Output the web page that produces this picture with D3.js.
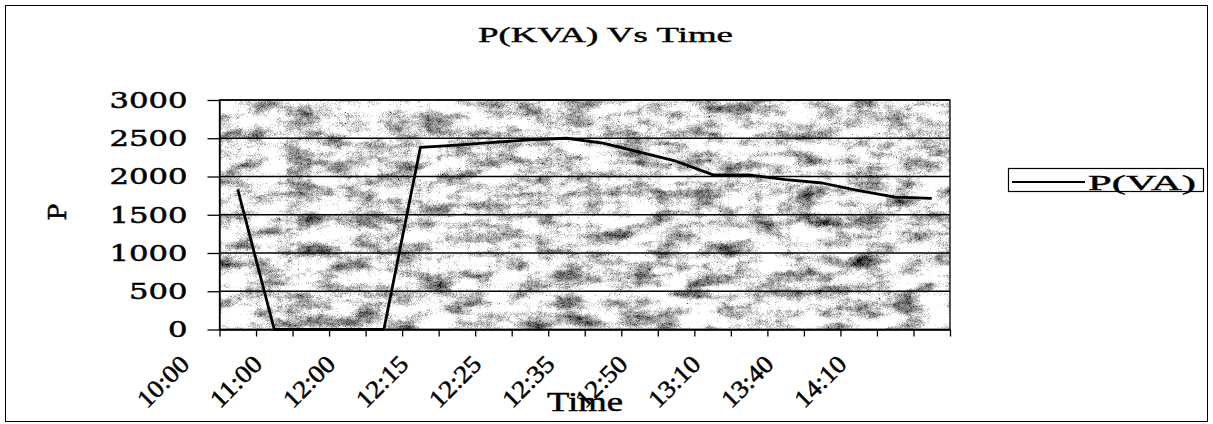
<!DOCTYPE html>
<html>
<head>
<meta charset="utf-8">
<script src="https://cdn.jsdelivr.net/npm/d3@7"></script>
<style>
    body { margin: 0; background: #fff; }
    svg { display: block; }
</style>
</head>
<body>
<div id="chart"></div>
<script>
// Data
const tickLabels = ["10:00", "11:00", "12:00", "12:15", "12:25", "12:35", "12:50", "13:10", "13:40", "14:10"];
const pValues = [1830, 0, 0, 0, 0, 2380, 2410, 2445, 2480, 2500, 2435, 2320, 2200, 2025, 2020, 1960, 1915, 1815, 1730, 1715];
const yTicks = [0, 500, 1000, 1500, 2000, 2500, 3000];
const seriesName = "P(VA)";
const chartTitle = "P(KVA) Vs Time";

const W = 1213, H = 424;
const margin = { top: 100, right: 263, bottom: 94.5, left: 219.5 };
const width = W - margin.left - margin.right;
const height = H - margin.top - margin.bottom;

const svg = d3.select("#chart").append("svg")
    .attr("width", W)
    .attr("height", H);

// granite-like texture for the plot area: soft blotches + fine grain
const defs = svg.append("defs");
const filt = defs.append("filter").attr("id", "granite")
    .attr("x", 0).attr("y", 0).attr("width", "100%").attr("height", "100%")
    .attr("color-interpolation-filters", "sRGB");
filt.append("feTurbulence")
    .attr("type", "fractalNoise")
    .attr("baseFrequency", "0.03 0.07")
    .attr("numOctaves", 4)
    .attr("seed", 11)
    .attr("result", "blotch");
filt.append("feColorMatrix")
    .attr("in", "blotch")
    .attr("type", "matrix")
    .attr("values", "0.5 0.5 0 0 0  0.5 0.5 0 0 0  0.5 0.5 0 0 0  0 0 0 0 1")
    .attr("result", "blotchGray");
filt.append("feTurbulence")
    .attr("type", "turbulence")
    .attr("baseFrequency", "0.9")
    .attr("numOctaves", 1)
    .attr("seed", 3)
    .attr("result", "grain");
filt.append("feColorMatrix")
    .attr("in", "grain")
    .attr("type", "matrix")
    .attr("values", "1 0 0 0 0  1 0 0 0 0  1 0 0 0 0  0 0 0 0 1")
    .attr("result", "grainGray");
filt.append("feComposite")
    .attr("in", "blotchGray")
    .attr("in2", "grainGray")
    .attr("operator", "arithmetic")
    .attr("k1", 0).attr("k2", 1).attr("k3", -0.35).attr("k4", 0.35)
    .attr("result", "mix");
const ct = filt.append("feComponentTransfer").attr("in", "mix");
["feFuncR", "feFuncG", "feFuncB"].forEach(f => {
    ct.append(f).attr("type", "linear").attr("slope", 2.4).attr("intercept", -1.03);
});
ct.append("feFuncA").attr("type", "linear").attr("slope", 0).attr("intercept", 1);

// outer frame
svg.append("rect")
    .attr("x", 5.5).attr("y", 5.5)
    .attr("width", W - 11).attr("height", H - 8)
    .attr("fill", "none")
    .attr("stroke", "#000")
    .attr("stroke-width", 1);

// title
svg.append("text")
    .attr("x", 605.5)
    .attr("y", 42)
    .attr("text-anchor", "middle")
    .attr("font-family", "Liberation Serif")
    .attr("font-size", 22)
    .attr("stroke", "#000")
    .attr("stroke-width", 0.4)
    .attr("textLength", 255)
    .attr("lengthAdjust", "spacingAndGlyphs")
    .text(chartTitle);

const g = svg.append("g")
    .attr("transform", `translate(${margin.left},${margin.top})`);

// Scales
const x = d3.scaleBand().domain(d3.range(pValues.length)).range([0, width]).padding(0);
const xTickScale = d3.scaleLinear().domain([0, pValues.length]).range([0, width]);
const y = d3.scaleLinear().domain([0, 3000]).range([height, 0]);

// plot background
g.append("rect")
    .attr("width", width)
    .attr("height", height)
    .attr("fill", "#aaa")
    .attr("filter", "url(#granite)");

// gridlines
g.append("g")
    .selectAll("line")
    .data(yTicks)
    .join("line")
    .attr("x1", 0).attr("x2", width)
    .attr("y1", d => y(d)).attr("y2", d => y(d))
    .attr("stroke", "#000")
    .attr("stroke-width", 1.3);

// plot border
g.append("rect")
    .attr("width", width)
    .attr("height", height)
    .attr("fill", "none")
    .attr("stroke", "#000")
    .attr("stroke-width", 1.3);

// y axis
const yAxis = d3.axisLeft(y)
    .tickValues(yTicks)
    .tickFormat(d3.format("d"))
    .tickSize(12).tickSizeOuter(0).tickPadding(20);
const yG = g.append("g").call(yAxis);
yG.select(".domain").attr("stroke", "#000").attr("stroke-width", 1.3);
yG.selectAll(".tick line").attr("stroke", "#000").attr("stroke-width", 1.3);
yG.selectAll(".tick text")
    .attr("font-family", "DejaVu Serif")
    .attr("font-size", 23)
    .attr("fill", "#000")
    .attr("stroke", "#000")
    .attr("stroke-width", 0.5)
    .attr("textLength", d => String(d).length * 19.5)
    .attr("lengthAdjust", "spacingAndGlyphs");

// x axis tick marks (category boundaries)
const xAxis = d3.axisBottom(xTickScale).ticks(pValues.length).tickSize(7).tickSizeOuter(0).tickFormat("");
const xG = g.append("g")
    .attr("transform", `translate(0,${height})`)
    .call(xAxis);
xG.select(".domain").attr("stroke", "#000").attr("stroke-width", 1.3);
xG.selectAll(".tick line").attr("stroke", "#000").attr("stroke-width", 1.3);

// x labels, every second category, rotated
g.append("g")
    .selectAll("text")
    .data(tickLabels)
    .join("text")
    .attr("transform", (d, i) => `translate(${x(i * 2) + x.bandwidth() / 2 - 47},${height + 36}) rotate(-45)`)
    .attr("text-anchor", "end")
    .attr("font-family", "Liberation Serif")
    .attr("font-size", 25)
    .attr("stroke", "#000")
    .attr("stroke-width", 0.5)
    .attr("textLength", 62)
    .attr("lengthAdjust", "spacingAndGlyphs")
    .text(d => d);

// axis titles
svg.append("text")
    .attr("x", 585)
    .attr("y", 411)
    .attr("text-anchor", "middle")
    .attr("font-family", "Liberation Serif")
    .attr("font-size", 28)
    .attr("stroke", "#000")
    .attr("stroke-width", 0.5)
    .attr("textLength", 76)
    .attr("lengthAdjust", "spacingAndGlyphs")
    .text("Time");

svg.append("text")
    .attr("transform", "translate(66,212) rotate(-90)")
    .attr("text-anchor", "middle")
    .attr("font-family", "DejaVu Serif")
    .attr("font-size", 25)
    .attr("stroke", "#000")
    .attr("stroke-width", 0.5)
    .text("P");

// the line
const line = d3.line()
    .x((d, i) => x(i) + x.bandwidth() / 2)
    .y(d => y(d));

g.append("path")
    .datum(pValues)
    .attr("d", line)
    .attr("fill", "none")
    .attr("stroke", "#000")
    .attr("stroke-width", 2.8)
    .attr("stroke-linejoin", "round");

// legend
const lg = svg.append("g");
lg.append("rect")
    .attr("x", 1008.5).attr("y", 168.5)
    .attr("width", 195).attr("height", 23)
    .attr("fill", "#fff")
    .attr("stroke", "#000")
    .attr("stroke-width", 1.2);
lg.append("line")
    .attr("x1", 1012).attr("x2", 1085)
    .attr("y1", 182).attr("y2", 182)
    .attr("stroke", "#000")
    .attr("stroke-width", 2);
lg.append("text")
    .attr("x", 1088)
    .attr("y", 189.5)
    .attr("font-family", "Liberation Serif")
    .attr("font-size", 22)
    .attr("stroke", "#000")
    .attr("stroke-width", 0.4)
    .attr("textLength", 108)
    .attr("lengthAdjust", "spacingAndGlyphs")
    .text(seriesName);
</script>
</body>
</html>
